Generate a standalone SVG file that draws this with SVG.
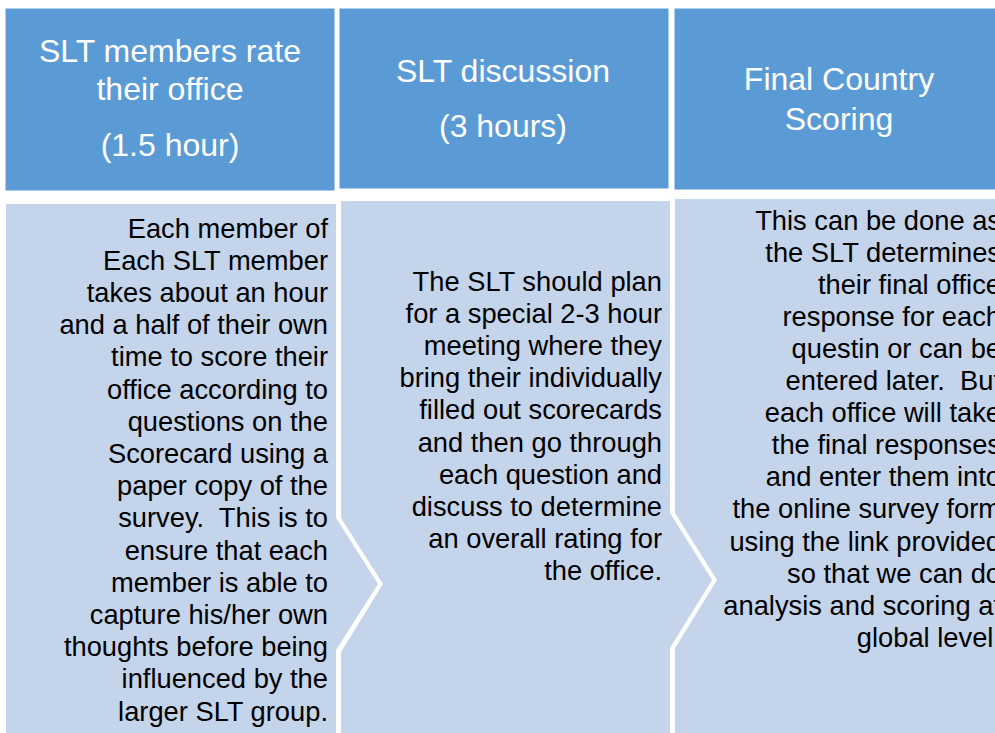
<svg xmlns="http://www.w3.org/2000/svg" width="995" height="733" viewBox="0 0 995 733">
<style>
.hdr{fill:#5B9BD5;stroke:#FFFFFF;stroke-width:1}
.body{fill:#C4D4EA}
.ht{font-family:"Liberation Sans",Arial,sans-serif;font-size:32px;fill:#FFFFFF;text-anchor:middle}
.bt{font-family:"Liberation Sans",Arial,sans-serif;font-size:27.3px;fill:#000000;text-anchor:end}
</style>
<rect width="995" height="733" fill="#FFFFFF"/>
<g id="connectors"></g>
<g id="header1">
<rect class="hdr" x="5" y="8" width="330" height="183"/>
<text class="ht" x="170" y="62">SLT members rate</text>
<text class="ht" x="170" y="100">their office</text>
<text class="ht" x="170" y="156">(1.5 hour)</text>
</g>
<g id="header2">
<rect class="hdr" x="339" y="8" width="330" height="181"/>
<text class="ht" x="503" y="82">SLT discussion</text>
<text class="ht" x="503" y="137">(3 hours)</text>
</g>
<g id="header3">
<rect class="hdr" x="674" y="8" width="340" height="182"/>
<text class="ht" x="839" y="90">Final Country</text>
<text class="ht" x="839" y="130">Scoring</text>
</g>
<g id="body1">
<polygon class="body" points="6,204 336,204 336,518 378,584 336,650 336,745 6,745"/>
<text class="bt" x="328" y="237.5">Each member of</text>
<text class="bt" x="328" y="269.7">Each SLT member</text>
<text class="bt" x="328" y="301.9">takes about an hour</text>
<text class="bt" x="328" y="334.1">and a half of their own</text>
<text class="bt" x="328" y="366.3">time to score their</text>
<text class="bt" x="328" y="398.5">office according to</text>
<text class="bt" x="328" y="430.7">questions on the</text>
<text class="bt" x="328" y="462.9">Scorecard using a</text>
<text class="bt" x="328" y="495.1">paper copy of the</text>
<text class="bt" x="328" y="527.3">survey.&#160; This is to</text>
<text class="bt" x="328" y="559.5">ensure that each</text>
<text class="bt" x="328" y="591.7">member is able to</text>
<text class="bt" x="328" y="623.9">capture his/her own</text>
<text class="bt" x="328" y="656.1">thoughts before being</text>
<text class="bt" x="328" y="688.3">influenced by the</text>
<text class="bt" x="328" y="720.5">larger SLT group.</text>
</g>
<g id="body2">
<polygon class="body" points="341,201 670,201 670,513 712,580 670,648 670,745 341,745 341,652 383,584 341,518"/>
<text class="bt" x="662" y="290.7">The SLT should plan</text>
<text class="bt" x="662" y="322.9">for a special 2-3 hour</text>
<text class="bt" x="662" y="355">meeting where they</text>
<text class="bt" x="662" y="387.2">bring their individually</text>
<text class="bt" x="662" y="419.3">filled out scorecards</text>
<text class="bt" x="662" y="451.5">and then go through</text>
<text class="bt" x="662" y="483.6">each question and</text>
<text class="bt" x="662" y="515.8">discuss to determine</text>
<text class="bt" x="662" y="547.9">an overall rating for</text>
<text class="bt" x="662" y="580">the office.</text>
</g>
<g id="body3">
<polygon class="body" points="675,199 1010,199 1010,745 675,745 675,648 717,580 675,513"/>
<text class="bt" x="1001" y="229.5">This can be done as</text>
<text class="bt" x="1001" y="261.6">the SLT determines</text>
<text class="bt" x="1001" y="293.7">their final office</text>
<text class="bt" x="1001" y="325.8">response for each</text>
<text class="bt" x="1001" y="357.9">questin or can be</text>
<text class="bt" x="1001" y="390">entered later.&#160; But</text>
<text class="bt" x="1001" y="422.1">each office will take</text>
<text class="bt" x="1001" y="454.2">the final responses</text>
<text class="bt" x="1001" y="486.3">and enter them into</text>
<text class="bt" x="1001" y="518.4">the online survey form</text>
<text class="bt" x="1001" y="550.5">using the link provided</text>
<text class="bt" x="1001" y="582.6">so that we can do</text>
<text class="bt" x="1001" y="614.7">analysis and scoring at</text>
<text class="bt" x="1001" y="646.8">global level.</text>
</g>
</svg>
